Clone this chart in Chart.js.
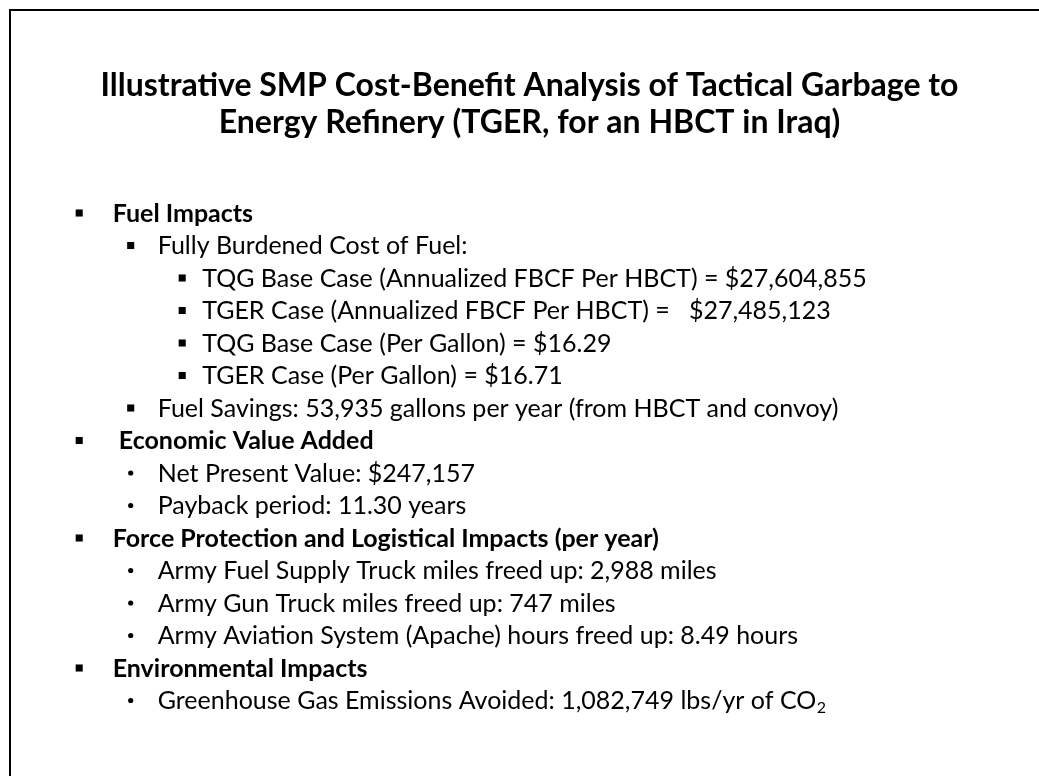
<!DOCTYPE html>
<html>
<head>
<meta charset="utf-8">
<script src="https://cdn.jsdelivr.net/npm/chart.js@4.4.1/dist/chart.umd.min.js"></script>
<style>
  html, body { margin: 0; padding: 0; background: #fff; overflow: hidden; }
  canvas { display: block; }
</style>
</head>
<body>
<canvas id="slide" width="1039" height="776"></canvas>
<script>
// slide text and figures
const titleLines = [
  'Illustrative SMP Cost-Benefit Analysis of Tactical Garbage to',
  'Energy Refinery (TGER, for an HBCT in Iraq)'
];
const sectionTitles = ['Fuel Impacts', ' Economic Value Added', 'Force Protection and Logistical Impacts (per year)', 'Environmental Impacts'];
const fbcfCases = ['TQG Base Case (Annualized FBCF Per HBCT) = ', 'TGER Case (Annualized FBCF Per HBCT) =   ', 'TQG Base Case (Per Gallon) = ', 'TGER Case (Per Gallon) = '];
const fbcfValues = ['$27,604,855', '$27,485,123', '$16.29', '$16.71'];
const fuelSavingsGallons = '53,935';
const netPresentValue = '$247,157';
const paybackYears = '11.30';
const freedUpLabels = ['Army Fuel Supply Truck miles freed up: ', 'Army Gun Truck miles freed up: ', 'Army Aviation System (Apache) hours freed up: '];
const freedUpValues = ['2,988 miles', '747 miles', '8.49 hours'];
const ghgAvoidedLbs = '1,082,749';

// outline rows: level 1..3, bullet 'sq' or 'dot'
const rows = [];
rows.push({ level: 1, bullet: 'sq', text: sectionTitles[0], bold: true });
rows.push({ level: 2, bullet: 'sq', text: 'Fully Burdened Cost of Fuel:' });
fbcfCases.forEach((c, i) => rows.push({ level: 3, bullet: 'sq', text: c + fbcfValues[i] }));
rows.push({ level: 2, bullet: 'sq', text: 'Fuel Savings: ' + fuelSavingsGallons + ' gallons per year (from HBCT and convoy)' });
rows.push({ level: 1, bullet: 'sq', text: sectionTitles[1], bold: true });
rows.push({ level: 2, bullet: 'dot', text: 'Net Present Value: ' + netPresentValue });
rows.push({ level: 2, bullet: 'dot', text: 'Payback period: ' + paybackYears + ' years' });
rows.push({ level: 1, bullet: 'sq', text: sectionTitles[2], bold: true });
freedUpLabels.forEach((l, i) => rows.push({ level: 2, bullet: 'dot', text: l + freedUpValues[i] }));
rows.push({ level: 1, bullet: 'sq', text: sectionTitles[3], bold: true });
rows.push({ level: 2, bullet: 'dot', text: 'Greenhouse Gas Emissions Avoided: ' + ghgAvoidedLbs + ' lbs/yr of CO', sub: '2' });

const FONT = 'Lato, "Open Sans", sans-serif';
const BODY_SIZE = 25;
const rowStep = 32.5;
const levelStep = 51.75;
const textIndent = { 1: 33.5, 2: 27, 3: 20 };
const areaTop = 180, areaBottom = 736, areaLeft = 20;
const firstBulletY = 213, firstBulletX = 79.5;

const yMin = -(firstBulletY - areaTop) / rowStep;
const yMax = yMin + (areaBottom - areaTop) / rowStep;
const xMin = 1 - (firstBulletX - areaLeft) / levelStep;
const xMax = xMin + (1039 - areaLeft) / levelStep;

const squarePts = [];
const dotPts = [];
rows.forEach((r, i) => {
  (r.bullet === 'sq' ? squarePts : dotPts).push({ x: r.level, y: i });
});

const slidePlugin = {
  id: 'slide',
  beforeDraw(chart) {
    const ctx = chart.ctx;
    ctx.save();
    ctx.fillStyle = '#fff';
    ctx.fillRect(0, 0, chart.width, chart.height);
    ctx.fillStyle = '#000';
    ctx.fillRect(9, 9, 1030, 2);
    ctx.fillRect(9, 9, 2, 767);
    ctx.restore();
  },
  afterDatasetsDraw(chart) {
    const ctx = chart.ctx;
    const xs = chart.scales.x, ys = chart.scales.y;
    ctx.save();
    ctx.fillStyle = '#000';
    ctx.textBaseline = 'alphabetic';
    ctx.textAlign = 'left';
    rows.forEach((r, i) => {
      const x = xs.getPixelForValue(r.level) + textIndent[r.level];
      const y = ys.getPixelForValue(i) + 8.5;
      ctx.font = (r.bold ? 'bold ' : '') + BODY_SIZE + 'px ' + FONT;
      ctx.fillText(r.text, x, y);
      if (r.sub) {
        const w = ctx.measureText(r.text).width;
        ctx.font = Math.round(BODY_SIZE * 0.65) + 'px ' + FONT;
        ctx.fillText(r.sub, x + w + 0.5, y + 4);
      }
    });
    ctx.restore();
  }
};

new Chart(document.getElementById('slide'), {
  type: 'scatter',
  data: {
    datasets: [
      { data: squarePts, pointStyle: 'rect', pointRadius: 5, backgroundColor: '#000', borderWidth: 0 },
      { data: dotPts, pointStyle: 'circle', pointRadius: 2.6, backgroundColor: '#000', borderWidth: 0 }
    ]
  },
  options: {
    responsive: false,
    animation: false,
    devicePixelRatio: 1,
    events: [],
    layout: { padding: { left: areaLeft, right: 0, top: 0, bottom: 776 - areaBottom } },
    scales: {
      x: { type: 'linear', display: false, min: xMin, max: xMax },
      y: { type: 'linear', display: false, reverse: true, min: yMin, max: yMax }
    },
    plugins: {
      legend: { display: false },
      tooltip: { enabled: false },
      title: {
        display: true,
        text: titleLines,
        color: '#000',
        font: { family: FONT, size: 32, weight: 'bold', lineHeight: 1.15 },
        padding: { top: 67, bottom: 39.4 }
      }
    }
  },
  plugins: [slidePlugin]
});
</script>
</body>
</html>
